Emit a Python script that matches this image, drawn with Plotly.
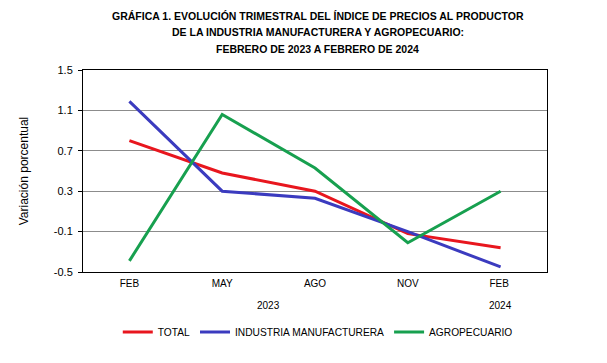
import plotly.graph_objects as go

months = ["FEB", "MAY", "AGO", "NOV", "FEB "]
years = ["2023", "2024"]
total = [0.80, 0.48, 0.30, -0.12, -0.26]
industria = [1.19, 0.30, 0.23, -0.10, -0.45]
agro = [-0.39, 1.06, 0.53, -0.21, 0.30]
yticks = [-0.5, -0.1, 0.3, 0.7, 1.1, 1.5]
title_lines = ["GRÁFICA 1. EVOLUCIÓN TRIMESTRAL DEL ÍNDICE DE PRECIOS AL PRODUCTOR",
               "DE LA INDUSTRIA MANUFACTURERA Y AGROPECUARIO:",
               "FEBRERO DE 2023 A FEBRERO DE 2024"]

fig = go.Figure()
for name, vals, col in [("TOTAL", total, "#E8161E"),
                        ("INDUSTRIA MANUFACTURERA", industria, "#3B3BBF"),
                        ("AGROPECUARIO", agro, "#17A04F")]:
    fig.add_trace(go.Scatter(x=months, y=vals, mode="lines", name=name,
                             line=dict(color=col, width=3)))

fig.add_annotation(x=1.5, y=0, xref="x", yref="paper", yshift=-41, text=years[0],
                   showarrow=False, font=dict(size=10, color="black"))
fig.add_annotation(x=4, y=0, xref="x", yref="paper", yshift=-41, text=years[1],
                   showarrow=False, font=dict(size=10, color="black"))

for i, line in enumerate(title_lines):
    fig.add_annotation(x=0.506, y=1, xref="paper", yref="paper", xanchor="center",
                       yanchor="middle", yshift=54 - 16.3 * i, text="<b>" + line + "</b>",
                       showarrow=False,
                       font=dict(family="Liberation Sans", size=10.5, color="black"))

fig.update_layout(
    width=599, height=355,
    margin=dict(l=75, r=60, t=62, b=91, autoexpand=False),
    paper_bgcolor="white", plot_bgcolor="white",
    font=dict(family="Liberation Sans, Arial", size=10, color="black"),
    xaxis=dict(type="category", range=[-0.5, 4.5], showline=True, linecolor="black",
               linewidth=1, mirror=True, ticks="", showgrid=False, automargin=False,
               ticklabelstandoff=2, tickfont=dict(size=10)),
    yaxis=dict(range=[-0.5, 1.5], tickvals=yticks, ticktext=[str(v) for v in yticks],
               showline=True, linecolor="black", linewidth=1, mirror=True,
               ticks="outside", ticklen=4, tickcolor="black", automargin=False,
               showgrid=True, gridcolor="#8C8C8C", gridwidth=1, zeroline=False,
               ticklabelstandoff=3, tickfont=dict(size=11),
               title=dict(text="Variación porcentual", font=dict(size=12), standoff=22)),
    legend=dict(orientation="h", x=0.506, xanchor="center", y=-0.297, yanchor="middle",
                font=dict(size=10.2), itemwidth=30, tracegroupgap=0),
    showlegend=True,
)
fig.write_html("out.html")
